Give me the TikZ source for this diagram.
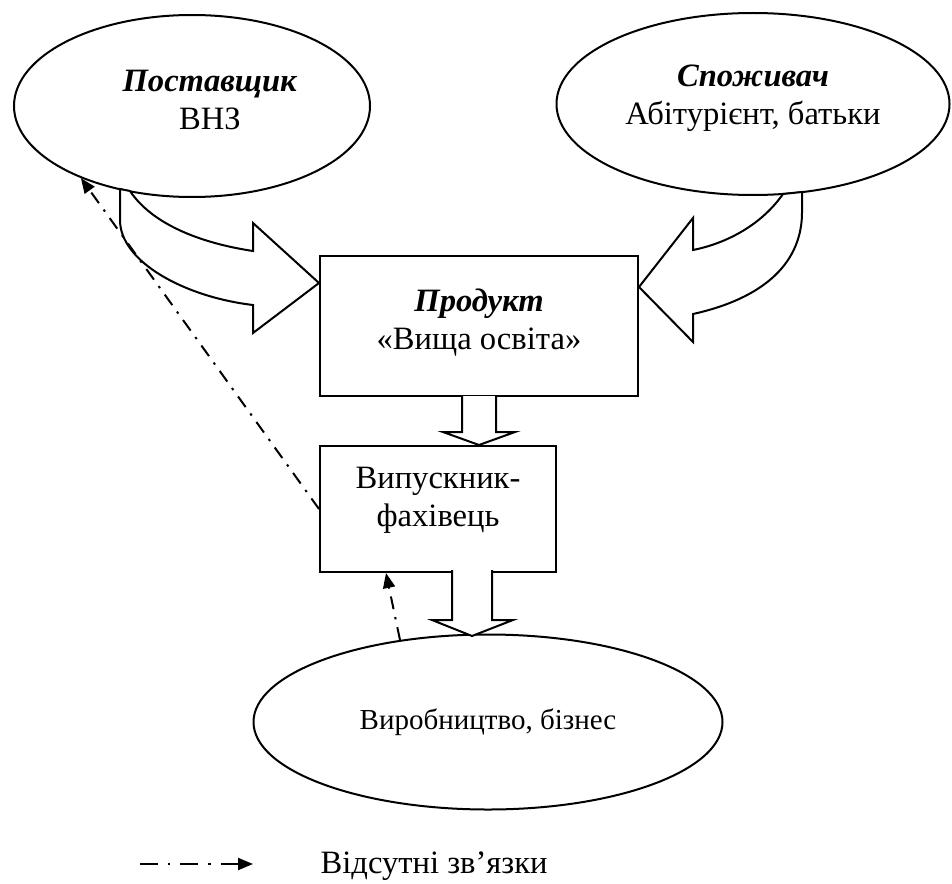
\documentclass[tikz,border=0pt]{standalone}
\usepackage{fontspec}
\setmainfont{Liberation Serif}
\usepackage{tikz}
\usetikzlibrary{positioning}
\usetikzlibrary{shapes.geometric}
\usetikzlibrary{arrows.meta}
\usetikzlibrary{calc}

\begin{document}
\begin{tikzpicture}[x=0.5pt,y=-0.5pt,line width=1pt,
    font=\fontsize{16.3}{19}\selectfont,
    oval/.style={ellipse,draw,inner sep=0pt,align=center},
    box/.style={rectangle,draw,inner sep=0pt,align=center},
    fat/.style={draw,fill=white,line join=miter},
    missing/.style={dash pattern=on 6.5pt off 4pt on 1.2pt off 4pt,-{Triangle[length=7.5pt,width=6pt]}},
    legendline/.style={missing,dash pattern=on 9pt off 5pt on 1.2pt off 5pt}]
    \useasboundingbox (0,0) rectangle (952,883);
    \node[oval,minimum width=178pt,minimum height=91pt,
        label={[name=supplierText,align=center,xshift=9pt,yshift=3pt]center:\textbf{\textit{Поставщик}}\\ВНЗ}] (supplier) at (192,106) {};
    \node[oval,minimum width=196.5pt,minimum height=91pt,
        label={[name=consumerText,align=center,yshift=3pt]center:\textbf{\textit{Споживач}}\\Абітурієнт, батьки}] (consumer) at (753,104) {};
    \node[box,minimum width=159pt,minimum height=70pt,
        label={[name=productText,align=center,yshift=1.5pt]center:\textbf{\textit{Продукт}}\\«Вища освіта»}] (product) at (479,326) {};
    \node[box,minimum width=118pt,minimum height=63pt,
        label={[name=graduateText,align=center,yshift=4.5pt]center:Випускник-\\фахівець}] (graduate) [below=24pt of product.south west,anchor=north west] {};
    \node[oval,minimum width=234.5pt,minimum height=87.5pt,font=\fontsize{14.5}{17}\selectfont] (business) at (488,722) {Виробництво, бізнес};

    \draw[fat] (120,189) -- (120,220) .. controls (120,262) and (185,297) .. (253,305) -- (253,333)
        -- ($(product.north west)+(0,28)$) -- (253,223) -- (253,251) .. controls (200,243) and (152,224) .. (130,191) -- cycle;
    \draw[fat] (783,194) .. controls (762,224) and (728,243) .. (693,250) -- (693,218)
        -- ($(product.north east)+(0,32)$) -- (693,342) -- (693,314) .. controls (765,298) and (803,262) .. (802,210) -- (802,192) -- cycle;
    \draw[fat] (462,396) -- (462,432) -- (443,432) -- (product.south |- graduate.north) -- (515,432) -- (496,432) -- (496,396);
    \draw[fat] (452,570) -- (452,620) -- (432,620) -- (472,636) -- (513,620) -- (492,620) -- (492,570);

    \draw[missing] (graduate.west) -- (supplier.213);
    \draw[missing] (business.137) -- ($(graduate.south)+(-52,0)$);

    \coordinate (legstart) at (140,864);
    \coordinate (legend) at (253,864);
    \node[anchor=west] (legtext) at (313,866) {Відсутні зв’язки};
    \draw[legendline] (legstart) -- (legend);
\end{tikzpicture}
\end{document}
